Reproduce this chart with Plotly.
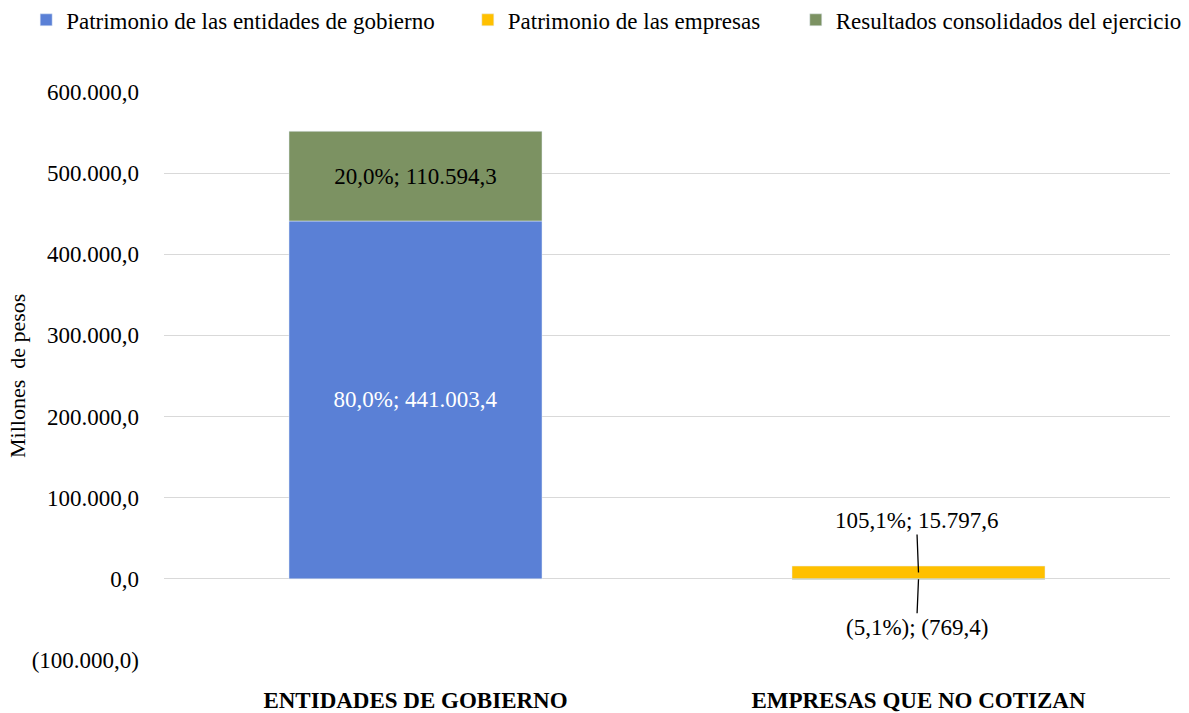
import plotly.graph_objects as go

categories = ["ENTIDADES DE GOBIERNO", "EMPRESAS QUE NO COTIZAN"]
patrimonio_entidades = [441003.4, None]
patrimonio_empresas = [None, 15797.6]
resultados = [110594.3, -769.4]
tick_vals = [-100000, 0, 100000, 200000, 300000, 400000, 500000, 600000]


def fmt_es(v, dec=1):
    s = f"{abs(v):,.{dec}f}"
    s = s.replace(",", "X").replace(".", ",").replace("X", ".")
    return f"({s})" if v < 0 else s


def pct_es(v):
    s = f"{abs(v):.1f}".replace(".", ",") + "%"
    return f"({s})" if v < 0 else s


totals = []
for i in range(len(categories)):
    t = sum(x for x in (patrimonio_entidades[i], patrimonio_empresas[i], resultados[i]) if x is not None)
    totals.append(t)


def label(v, i):
    if v is None:
        return ""
    return f"{pct_es(v / totals[i] * 100)}; {fmt_es(v)}"


FONT = "Liberation Serif"
FS = 23
BLUE = "#5A80D6"
YELLOW = "#FFC000"
GREEN = "#7C9262"

fig = go.Figure()
fig.add_trace(go.Bar(
    name="Patrimonio de las entidades de gobierno", x=categories, y=patrimonio_entidades,
    marker_color=BLUE, text=[label(v, i) for i, v in enumerate(patrimonio_entidades)],
    textposition="inside", insidetextanchor="middle",
    textfont=dict(color="white", size=FS, family=FONT), hoverinfo="skip",
    legend="legend",
))
fig.add_trace(go.Bar(
    name="Patrimonio de las empresas", x=categories, y=patrimonio_empresas,
    marker_color=YELLOW, text=None, hoverinfo="skip", legend="legend2",
))
res_text = [label(resultados[0], 0), ""]
fig.add_trace(go.Bar(
    name="Resultados consolidados del ejercicio", x=categories, y=resultados,
    marker_color=GREEN, text=res_text,
    textposition="inside", insidetextanchor="middle",
    textfont=dict(color="black", size=FS, family=FONT), hoverinfo="skip",
    legend="legend3",
))

# callout labels for the small bars
fig.add_annotation(
    x=categories[1], y=patrimonio_empresas[1] / 2, text=label(patrimonio_empresas[1], 1),
    showarrow=True, arrowhead=0, arrowwidth=1.3, arrowcolor="black", ax=-2, ay=-52,
    font=dict(size=FS, family=FONT, color="black"),
)
fig.add_annotation(
    x=categories[1], y=resultados[1] / 2, text=label(resultados[1], 1),
    showarrow=True, arrowhead=0, arrowwidth=1.3, arrowcolor="black", ax=-2, ay=48,
    font=dict(size=FS, family=FONT, color="black"),
)
fig.add_annotation(
    xref="paper", yref="paper", x=0, y=0.5, xanchor="center", yanchor="middle", xshift=-147,
    text="Millones  de pesos",
    textangle=-90, showarrow=False, font=dict(size=22, family=FONT, color="black"),
)

leg_common = dict(orientation="h", xref="paper", xanchor="left", yref="paper",
                  y=1.127, yanchor="middle", font=dict(size=FS, family=FONT),
                  itemclick=False, itemwidth=30, bgcolor="rgba(0,0,0,0)")

fig.update_layout(
    width=1189, height=713,
    barmode="relative", bargap=0.497,
    plot_bgcolor="white", paper_bgcolor="white",
    margin=dict(l=164, r=19, t=92, b=53, autoexpand=False),
    font=dict(family=FONT, size=FS, color="black"),
    legend=dict(x=-0.137, **leg_common),
    legend2=dict(x=0.302, **leg_common),
    legend3=dict(x=0.628, **leg_common),
    showlegend=True,
)
fig.update_yaxes(
    range=[-100000, 600000], tickvals=tick_vals, ticktext=[fmt_es(v) for v in tick_vals],
    showgrid=True, gridcolor="#D9D9D9", gridwidth=1, zeroline=True, zerolinecolor="#D9D9D9",
    zerolinewidth=1, ticks="", ticklabelstandoff=24, showline=False,
    tickfont=dict(size=FS, family=FONT),
)
fig.update_xaxes(
    showline=False, ticks="", ticklabelstandoff=24,
    tickfont=dict(size=FS, family=FONT),
    tickvals=categories, ticktext=[f"<b>{c}</b>" for c in categories],
)

fig.write_html("out.html", config={"displayModeBar": False},
               post_script="document.body.style.margin='0';document.body.style.padding='0';")
